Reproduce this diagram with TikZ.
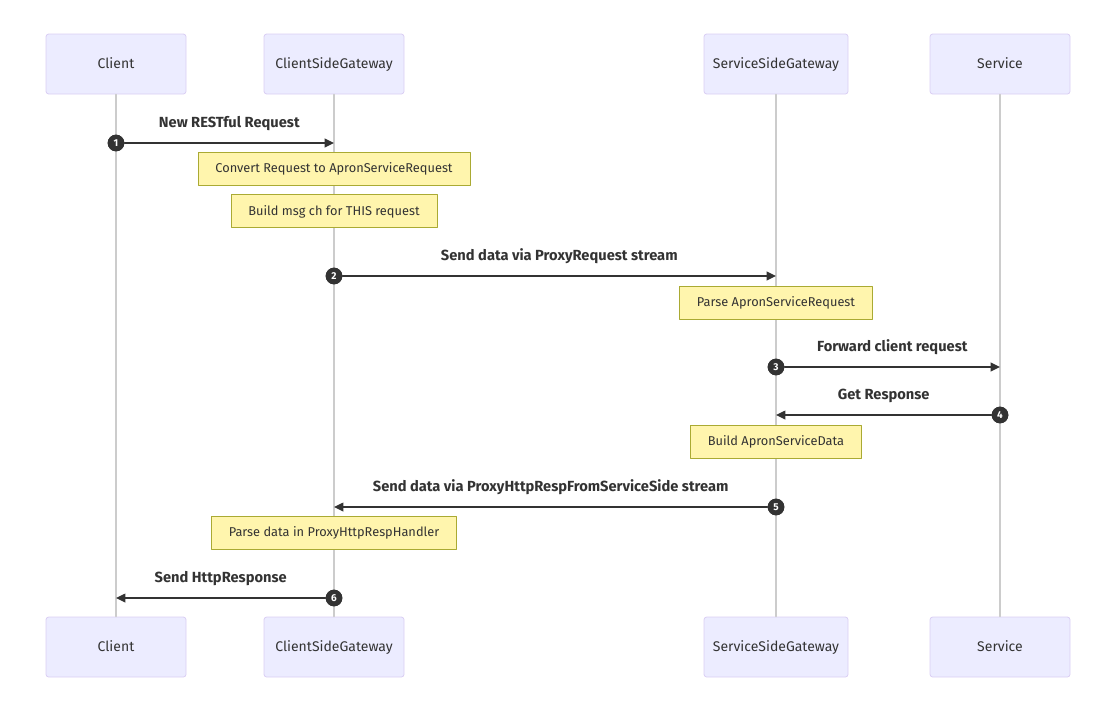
\documentclass[tikz,border=0pt]{standalone}
\usepackage{fontspec}
\setmainfont{Fira Sans}
\usetikzlibrary{arrows.meta}
\definecolor{actfill}{HTML}{ECECFF}
\definecolor{actline}{HTML}{DACEF3}
\definecolor{notefill}{HTML}{FFF5AD}
\definecolor{noteline}{HTML}{AAAA33}
\definecolor{ink}{HTML}{333333}
\definecolor{life}{HTML}{CCCCCC}
\tikzset{
	actor/.style={draw=actline, fill=actfill, rounded corners=2pt, line width=0.6pt,
		minimum width=105pt, minimum height=45pt, text height=1.6ex, text depth=0.4ex,
		font=\fontsize{10.5}{12}\selectfont, text=ink},
	note/.style={draw=noteline, fill=notefill, line width=0.6pt, minimum height=24.75pt,
		inner xsep=13pt, text height=1.6ex, text depth=0.4ex, font=\fontsize{9.6}{11}\selectfont, text=ink},
	num/.style={circle, fill=ink, text=white, minimum size=12.5pt, inner sep=0pt,
		font=\fontsize{7.5}{8}\selectfont\bfseries},
	msg/.style={draw=ink, line width=1.1pt, -{Triangle[length=7pt,width=6.5pt]}},
	lbl/.style={font=\fontsize{11}{13}\selectfont\bfseries, text=ink, above=5pt}
}
\begin{document}
\begin{tikzpicture}[x=0.75pt,y=-0.75pt, line join=round, line 
	cap=round]
	\useasboundingbox (0,0) rectangle (1116,703);
	% actors on top and bottom
	\path (116,64)node[actor](c1){Client}
	++(218,0)node[actor](g1){ClientSideGateway}
	++(442,0)node[actor,minimum width=108pt](s1){ServiceSideGateway}
	++(224,0)node[actor](v1){Service}
	;
	\path (c1)++(0,583)node[actor](c2){Client}
	(g1)++(0,583)node[actor](g2){ClientSideGateway}
	(s1)++(0,583)node[actor,minimum width=108pt](s2){ServiceSideGateway}
	(v1)++(0,583)node[actor](v2){Service}
	;
	\draw[life,line width=0.8pt](c1.south)--(c2.north);
	\draw[life,line width=0.8pt](g1.south)--(g2.north);
	\draw[life,line width=0.8pt](s1.south)--(s2.north);
	\draw[life,line width=0.8pt](v1.south)--(v2.north);
	% notes
	\path (g1)++(0,104.5)node[note](k1){Convert Request to ApronServiceRequest}
	(g1)++(0,147)node[note](k2){Build msg ch for THIS request}
	(s1)++(0,238.5)node[note](k3){Parse ApronServiceRequest}
	(s1)++(0,377.5)node[note](k4){Build ApronServiceData}
	(g1)++(0,468.5)node[note](k5){Parse data in ProxyHttpRespHandler}
	;
	% messages
	\path (c1)++(0,79)node[num](n1){1}
	(g1)++(0,79)coordinate(t1);
	\draw[msg](n1)--(t1) node[pos=0.5,lbl]{New RESTful Request};
	\path (g1)++(0,212)node[num](n2){2}
	(s1)++(0,212)coordinate(t2);
	\draw[msg](n2)--(t2) node[pos=0.5,lbl]{Send data via ProxyRequest stream};
	\path (s1)++(0,303)node[num](n3){3}
	(v1)++(0,303)coordinate(t3);
	\draw[msg](n3)--(t3) node[pos=0.5,lbl]{Forward client request};
	\path (v1)++(0,351)node[num](n4){4}
	(s1)++(0,351)coordinate(t4);
	\draw[msg](n4)--(t4) node[pos=0.5,lbl]{Get Response};
	\path (s1)++(0,443)node[num](n5){5}
	(g1)++(0,443)coordinate(t5);
	\draw[msg](n5)--(t5) node[pos=0.5,lbl]{Send data via ProxyHttpRespFromServiceSide stream};
	\path (g1)++(0,534)node[num](n6){6}
	(c1)++(0,534)coordinate(t6);
	\draw[msg](n6)--(t6) node[pos=0.5,lbl]{Send HttpResponse};
	% redraw numbers on top
	\foreach \k in {1,...,6}{\node[num] at (n\k){\k};}
\end{tikzpicture}
\end{document}
